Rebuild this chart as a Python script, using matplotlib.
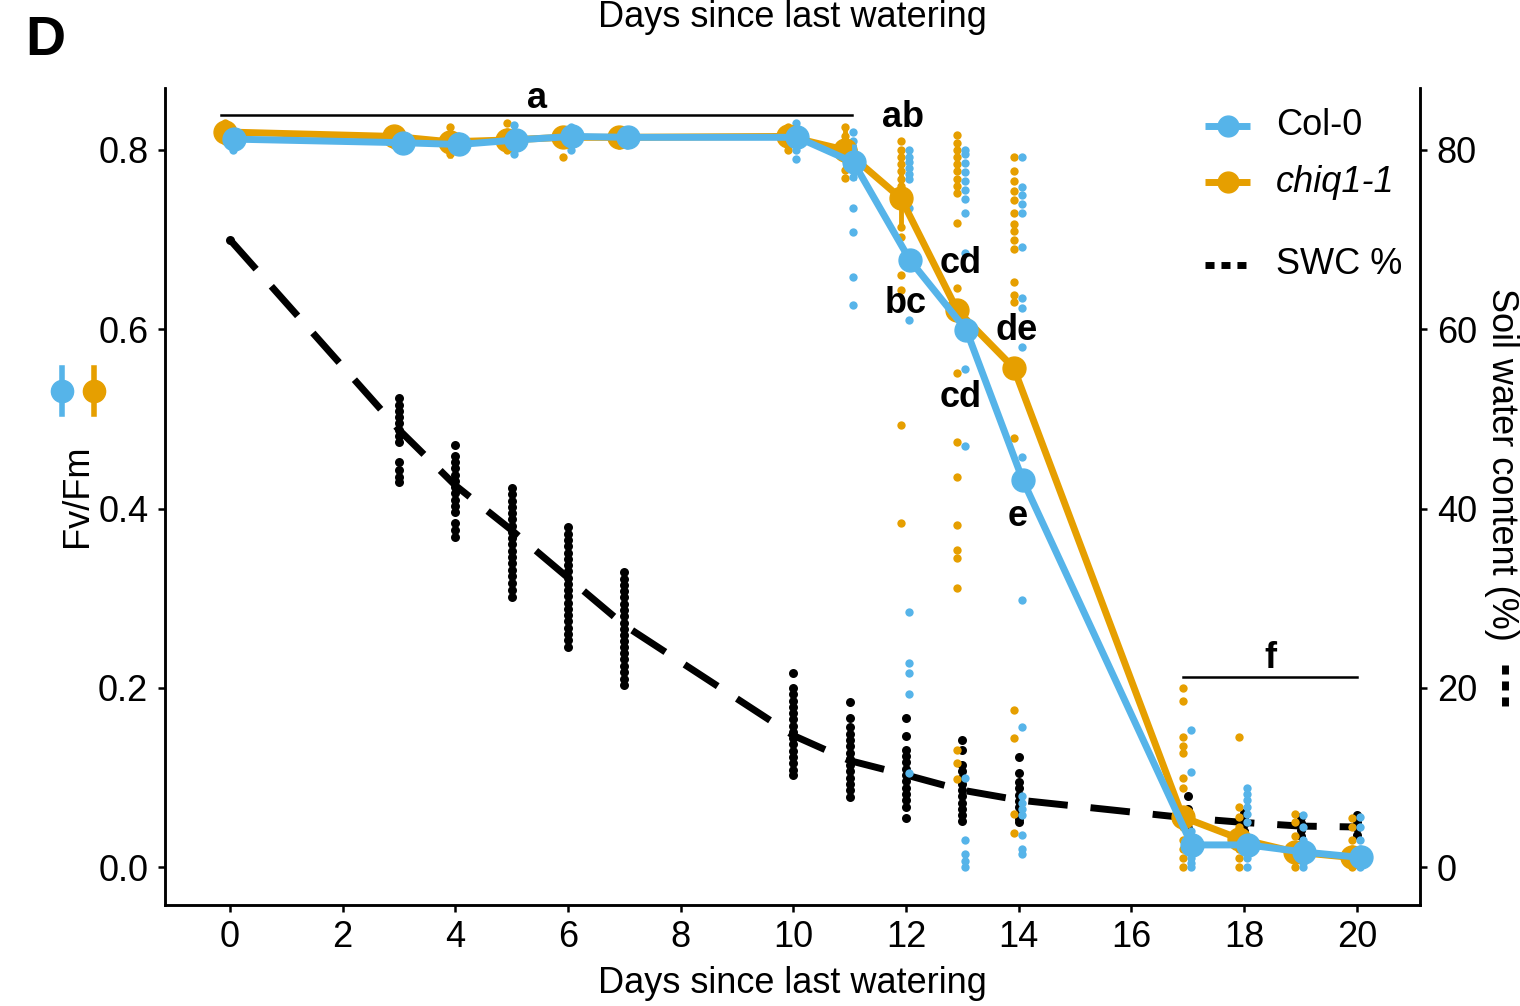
import matplotlib
matplotlib.use('Agg')
import matplotlib.pyplot as plt
from matplotlib.lines import Line2D

plt.rcParams['font.family'] = ['Liberation Sans', 'DejaVu Sans']

blue = '#56B4E9'
orange = '#E69F00'

# days of measurement
days = [0, 3, 4, 5, 6, 7, 10, 11, 12, 13, 14, 17, 18, 19, 20]

# mean Fv/Fm
col_mean = [0.812, 0.808, 0.806, 0.811, 0.815, 0.814, 0.814, 0.786, 0.677, 0.599, 0.432, 0.025, 0.025, 0.017, 0.011]
chiq_mean = [0.820, 0.815, 0.809, 0.811, 0.814, 0.814, 0.815, 0.800, 0.746, 0.621, 0.557, 0.056, 0.032, 0.017, 0.011]
col_se = [0.008, 0.006, 0.006, 0.010, 0.006, 0.006, 0.008, 0.020, 0.012, 0.012, 0.012, 0.010, 0.010, 0.008, 0.008]
chiq_se = [0.008, 0.006, 0.018, 0.012, 0.012, 0.006, 0.008, 0.025, 0.030, 0.012, 0.012, 0.012, 0.012, 0.008, 0.008]

# single plants, Fv/Fm
col_pts = [
    [0.80, 0.81, 0.815, 0.82, 0.805],
    [0.80, 0.81, 0.815, 0.805],
    [0.80, 0.81, 0.805, 0.815],
    [0.795, 0.81, 0.815, 0.828, 0.80],
    [0.80, 0.81, 0.82, 0.825],
    [0.81, 0.815, 0.82, 0.805],
    [0.79, 0.80, 0.815, 0.825, 0.83],
    [0.627, 0.658, 0.708, 0.735, 0.77, 0.78, 0.79, 0.80, 0.81, 0.82],
    [0.105, 0.193, 0.217, 0.228, 0.285, 0.61, 0.735, 0.767, 0.773, 0.78, 0.786, 0.792, 0.80],
    [0.0, 0.007, 0.015, 0.03, 0.10, 0.47, 0.556, 0.685, 0.73, 0.745, 0.755, 0.765, 0.775, 0.785, 0.795, 0.80],
    [0.015, 0.02, 0.036, 0.058, 0.065, 0.072, 0.08, 0.156, 0.298, 0.457, 0.58, 0.624, 0.635, 0.692, 0.73, 0.74, 0.75, 0.759, 0.792],
    [0.0, 0.005, 0.01, 0.02, 0.03, 0.04, 0.106, 0.153],
    [0.0, 0.01, 0.02, 0.03, 0.05, 0.06, 0.067, 0.075, 0.082, 0.089],
    [0.0, 0.005, 0.01, 0.02, 0.03, 0.045, 0.058],
    [0.0, 0.005, 0.01, 0.02, 0.03, 0.045, 0.056],
]
chiq_pts = [
    [0.81, 0.82, 0.825, 0.83, 0.815],
    [0.805, 0.815, 0.82, 0.81],
    [0.795, 0.805, 0.81, 0.826],
    [0.80, 0.81, 0.82, 0.83],
    [0.792, 0.81, 0.815, 0.82],
    [0.805, 0.81, 0.815, 0.82],
    [0.80, 0.81, 0.815, 0.82, 0.825],
    [0.769, 0.778, 0.79, 0.80, 0.81, 0.815, 0.825],
    [0.384, 0.493, 0.644, 0.66, 0.703, 0.714, 0.745, 0.752, 0.76, 0.768, 0.776, 0.784, 0.792, 0.80, 0.81],
    [0.098, 0.116, 0.131, 0.311, 0.345, 0.354, 0.382, 0.435, 0.474, 0.551, 0.646, 0.719, 0.752, 0.76, 0.768, 0.776, 0.784, 0.792, 0.80, 0.808, 0.817],
    [0.038, 0.06, 0.144, 0.175, 0.479, 0.63, 0.638, 0.653, 0.689, 0.70, 0.709, 0.717, 0.73, 0.744, 0.754, 0.765, 0.776, 0.792],
    [0.0, 0.01, 0.02, 0.03, 0.045, 0.06, 0.089, 0.10, 0.127, 0.135, 0.145, 0.185, 0.20],
    [0.0, 0.01, 0.02, 0.03, 0.045, 0.056, 0.067, 0.145],
    [0.0, 0.01, 0.02, 0.035, 0.05, 0.06],
    [0.0, 0.01, 0.02, 0.03, 0.045, 0.055],
]

# soil water content (%)
swc_mean = [70.0, 48.8, 42.6, 37.6, 32.3, 27.0, 14.7, 11.9, 10.3, 8.6, 7.5, 5.5, 5.0, 4.6, 4.5]
swc_pts = [
    [70.0],
    [52.3, 51.6, 50.9, 50.2, 49.5, 48.8, 48.1, 47.4, 45.2, 44.3, 43.5, 43.0],
    [47.1, 45.9, 45.2, 44.5, 43.8, 43.1, 42.4, 41.7, 41.0, 40.3, 39.6, 38.4, 37.6, 36.8],
    [42.3, 41.6, 40.9, 40.2, 39.5, 38.8, 38.1, 37.4, 36.7, 36.0, 35.3, 34.6, 33.9, 33.2, 32.5, 31.7, 30.9, 30.1],
    [37.9, 37.2, 36.5, 35.8, 35.1, 34.4, 33.7, 33.0, 32.3, 31.6, 30.9, 30.2, 29.5, 28.8, 28.1, 27.5, 26.7, 26.0, 25.3, 24.6],
    [32.9, 32.2, 31.5, 30.8, 30.1, 29.4, 28.7, 28.0, 27.3, 26.6, 25.9, 25.2, 24.6, 23.9, 23.2, 22.5, 21.8, 21.0, 20.3],
    [21.7, 20.0, 19.3, 18.6, 17.9, 17.2, 16.5, 15.8, 15.1, 14.4, 13.7, 13.0, 12.3, 11.6, 10.9, 10.3],
    [18.4, 16.6, 15.6, 14.9, 14.2, 13.5, 12.8, 12.1, 11.4, 10.7, 10.0, 9.3, 8.6, 7.8],
    [16.6, 14.7, 13.1, 12.4, 11.7, 11.0, 10.3, 9.6, 8.9, 8.2, 7.5, 6.7, 5.5],
    [14.2, 13.1, 11.4, 10.7, 10.0, 9.3, 8.6, 7.9, 7.2, 6.5, 5.8, 5.2],
    [12.3, 10.5, 9.5, 8.8, 8.1, 7.4, 6.7, 6.0, 5.4, 5.0],
    [8.0, 6.5, 5.8, 5.0, 4.4],
    [6.1, 5.4, 4.8, 4.1],
    [5.6, 4.9, 4.2, 3.5],
    [5.8, 5.1, 4.4, 3.6],
]

letters = ['a', 'ab', 'cd', 'bc', 'de', 'cd', 'e', 'f']
letter_x = [5.45, 11.95, 12.97, 12.0, 13.97, 12.97, 13.98, 18.46]
letter_y = [0.847, 0.826, 0.663, 0.618, 0.588, 0.513, 0.381, 0.222]


def fpx(x, y):
    return x / 1520, 1 - y / 1006


fig = plt.figure(figsize=(15.2, 10.06), dpi=100)
ax = fig.add_axes([165 / 1520, 1 - 905 / 1006, 1255 / 1520, 817 / 1006])
ax2 = ax.twinx()
ax.set_zorder(ax2.get_zorder() + 1)
ax.patch.set_visible(False)

# soil water content on the right axis
for d, vals in zip(days, swc_pts):
    ax2.scatter([d] * len(vals), vals, s=42, color='black', linewidths=0, zorder=2)
ax2.plot(days, swc_mean, color='black', lw=5, linestyle=(0, (5.7, 3.3)),
         dash_capstyle='butt', zorder=3)

# Fv/Fm on the left axis
for d, vals in zip(days, chiq_pts):
    ax.scatter([d - 0.09] * len(vals), vals, s=36, color=orange, linewidths=0, zorder=2)
for d, vals in zip(days, col_pts):
    ax.scatter([d + 0.05] * len(vals), vals, s=36, color=blue, linewidths=0, zorder=2)

chiq_x = [d - 0.09 for d in days]
col_x = [d + 0.07 for d in days]
ax.plot(chiq_x, chiq_mean, color=orange, lw=5, zorder=3)
ax.errorbar(chiq_x, chiq_mean, yerr=chiq_se, fmt='o', color=orange, ms=16.5,
            elinewidth=3.5, capsize=0, zorder=4)
ax.plot(col_x, col_mean, color=blue, lw=5, zorder=5)
ax.errorbar(col_x, col_mean, yerr=col_se, fmt='o', color=blue, ms=16.5,
            elinewidth=3.5, capsize=0, zorder=6)

# significance letters and brackets
ax.plot([-0.16, 11.04], [0.839, 0.839], color='black', lw=1.8, zorder=7)
ax.plot([16.91, 20.0], [0.212, 0.212], color='black', lw=1.8, zorder=7)
for t, x, y in zip(letters, letter_x, letter_y):
    ax.text(x, y, t, ha='center', va='baseline', fontsize=26, fontweight='bold', zorder=8)

# axes styling
ax.set_xlim(-1.15, 21.12)
ax.set_ylim(-0.042, 0.869)
ax2.set_ylim(-4.2, 86.9)
ax.set_xticks(range(0, 21, 2))
ax.set_yticks([0.0, 0.2, 0.4, 0.6, 0.8])
ax.set_yticklabels(['0.0', '0.2', '0.4', '0.6', '0.8'])
ax2.set_yticks([0, 20, 40, 60, 80])
for a in (ax, ax2):
    a.spines['top'].set_visible(False)
    for s in ('left', 'right', 'bottom'):
        a.spines[s].set_linewidth(1.8)
    a.tick_params(labelsize=26, length=5, width=1.8, colors='black')
ax.tick_params(axis='x', pad=6)
ax.tick_params(axis='y', pad=7)
ax2.tick_params(axis='y', pad=7)

# axis titles
fig.text(*fpx(792, 27), 'Days since last watering', ha='center', va='baseline', fontsize=26)
fig.text(*fpx(792, 993), 'Days since last watering', ha='center', va='baseline', fontsize=26)
fig.text(*fpx(77, 496), 'Fv/Fm', rotation=90, ha='center', va='center', fontsize=26)
fig.text(*fpx(1502, 464), 'Soil water content (%)', rotation=270, ha='center', va='center', fontsize=26)
fig.add_artist(Line2D([1505 / 1520] * 2, [1 - 665 / 1006, 1 - 708 / 1006], transform=fig.transFigure,
                      color='black', lw=5, linestyle=(0, (1.3, 1.0)), dash_capstyle='butt'))
fig.text(*fpx(25, 55), 'D', fontsize=40, fontweight='bold', ha='left', va='baseline')

# left-side keys
for xk, c in ((62, blue), (94, orange)):
    fig.add_artist(Line2D([xk / 1520] * 2, [1 - 368 / 1006, 1 - 414 / 1006], transform=fig.transFigure,
                          color=c, lw=4))
    fig.add_artist(Line2D([xk / 1520], [1 - 391 / 1006], transform=fig.transFigure,
                          color=c, marker='o', ms=16, lw=0))

# legend
for yk, c, lab, st in ((126, blue, 'Col-0', 'normal'), (182, orange, 'chiq1-1', 'italic')):
    fig.add_artist(Line2D([1205 / 1520, 1250 / 1520], [1 - yk / 1006] * 2, transform=fig.transFigure,
                          color=c, lw=5, solid_capstyle='butt'))
    fig.add_artist(Line2D([1228 / 1520], [1 - yk / 1006], transform=fig.transFigure,
                          color=c, marker='o', ms=15, lw=0))
    fig.text(*fpx(1276, yk), lab, fontsize=26, style=st, ha='left', va='center')
fig.add_artist(Line2D([1205 / 1520, 1252 / 1520], [1 - 265 / 1006] * 2, transform=fig.transFigure,
                      color='black', lw=5, linestyle=(0, (1.3, 1.0)), dash_capstyle='butt'))
fig.text(*fpx(1276, 265), 'SWC %', fontsize=26, ha='left', va='center')

fig.savefig('out.png', dpi=100)
